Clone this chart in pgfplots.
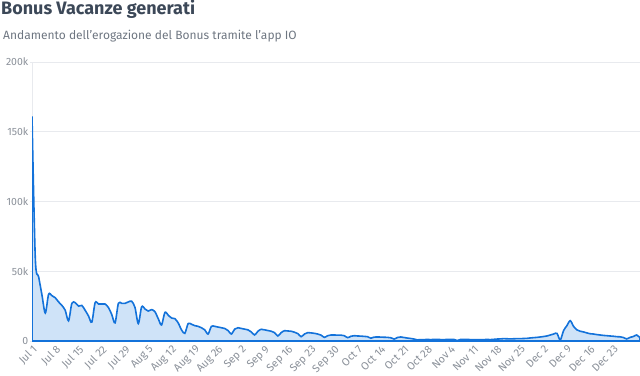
\documentclass[border=0pt]{standalone}
\usepackage{fontspec}
\setmainfont{Fira Sans}
\usepackage{pgfplots}
\usepackage{pgfplotstable}
\pgfplotsset{compat=1.18}
\definecolor{lineblue}{HTML}{1372DA}
\definecolor{fillblue}{HTML}{CFE3F8}
\definecolor{titlecol}{HTML}{3C4858}
\definecolor{subcol}{HTML}{6E7681}
\definecolor{tickcol}{HTML}{8A9099}
\definecolor{gridcol}{HTML}{E8EAEE}
\definecolor{basecol}{HTML}{CDD5DD}
\pgfplotstableread{
d v
0 161
1 59
2 46
3 33
4 20
5 33.5
6 32.5
7 31
8 28
9 25.5
10 22
11 14.5
12 27
13 27.5
14 25
15 25.5
16 22
17 18
18 13.5
19 27.5
20 26.5
21 26.5
22 26.5
23 24
24 19
25 13
26 27
27 27
28 27
29 28
30 28.5
31 24
32 12.5
33 24.5
34 23
35 21.5
36 22.5
37 21
38 16
39 11.5
40 20.5
41 18.5
42 16.5
43 16
44 13
45 8
46 5.5
47 12.5
48 12
49 11
50 10.5
51 9.5
52 8
53 5
54 10.5
55 10.5
56 10
57 9.5
58 9
59 7.5
60 5
61 8.5
62 9.5
63 9
64 8.5
65 8
66 6.5
67 4.3
68 7
69 8.4
70 8
71 7.5
72 7
73 6
74 3.6
75 6
76 7.4
77 7.2
78 7
79 6.3
80 5.3
81 3.1
82 5
83 6
84 5.8
85 5.5
86 5
87 4.2
88 2.6
89 3.8
90 4.3
91 4.3
92 4.2
93 4.2
94 3.8
95 2.4
96 3.4
97 3.8
98 3.6
99 3.5
100 3.3
101 3.1
102 2.0
103 2.8
104 2.9
105 2.8
106 2.7
107 2.6
108 2.3
109 1.4
110 2.5
111 2.9
112 2.5
113 2.1
114 1.8
115 1.4
116 0.8
117 1.0
118 1.0
119 1.1
120 1.0
121 1.1
122 1.2
123 1.0
124 1.0
125 1.1
126 1.2
127 1.1
128 0.3
129 1.1
130 1.2
131 1.1
132 1.0
133 1.0
134 1.0
135 1.0
136 1.0
137 1.1
138 1.0
139 1.2
140 1.4
141 1.5
142 1.7
143 1.6
144 1.5
145 1.6
146 1.7
147 1.7
148 1.8
149 1.9
150 2.2
151 2.4
152 2.6
153 2.9
154 3.2
155 3.6
156 4.3
157 5.0
158 5.5
159 0.7
160 7.5
161 11
162 14.6
163 10.5
164 8.0
165 7.0
166 6.5
167 5.8
168 5.2
169 5.0
170 4.6
171 4.3
172 4.0
173 3.8
174 3.6
175 3.4
176 3.1
177 3.0
178 2.5
179 1.5
180 2.6
181 3.2
182 4.3
183 2.3
}\bonusdata
\begin{document}
\begin{tikzpicture}
\path[use as bounding box] (0pt,0pt) rectangle (640pt,375pt);
\node[anchor=base west, inner sep=0, font=\fontsize{18}{21}\selectfont\bfseries, text=titlecol] at (1pt,360pt) {Bonus Vacanze generati};
\node[anchor=base west, inner sep=0, font=\fontsize{12}{14}\selectfont, text=subcol] at (3pt,335pt) {Andamento dell'erogazione del Bonus tramite l'app IO};
\begin{axis}[
  at={(32pt,34pt)}, anchor=origin,
  scale only axis, width=608pt, height=279pt,
  xmin=0, xmax=183, ymin=0, ymax=200,
  axis x line=bottom, axis y line=left,
  x axis line style={draw=basecol, line width=1.4pt, -},
  y axis line style={draw=gridcol, line width=0.6pt, -},
  ytick={0,50,100,150,200},
  yticklabels={0,50k,100k,150k,200k},
  xtick={0,7,...,175},
  xticklabels={Jul 1, Jul 8, Jul 15, Jul 22, Jul 29, Aug 5, Aug 12, Aug 19, Aug 26, Sep 2, Sep 9, Sep 16, Sep 23, Sep 30, Oct 7, Oct 14, Oct 21, Oct 28, Nov 4, Nov 11, Nov 18, Nov 25, Dec 2, Dec 9, Dec 16, Dec 23},
  ymajorgrids, grid style={draw=gridcol, line width=0.6pt},
  xtick style={draw=none},
  ytick style={draw=gridcol, line width=0.6pt},
  major tick length=4pt,
  xticklabel style={rotate=45, anchor=north east, font=\fontsize{10.8}{12}\selectfont, text=tickcol, inner sep=1pt},
  yticklabel style={font=\fontsize{10.5}{12}\selectfont, text=tickcol, inner sep=1.5pt},
  /pgf/number format/assume math mode=true,
  clip=true,
]
\addplot[draw=lineblue, line width=1.6pt, fill=fillblue, smooth, tension=0.5] table[x=d, y=v] {\bonusdata} \closedcycle;
\end{axis}
\end{tikzpicture}
\end{document}
